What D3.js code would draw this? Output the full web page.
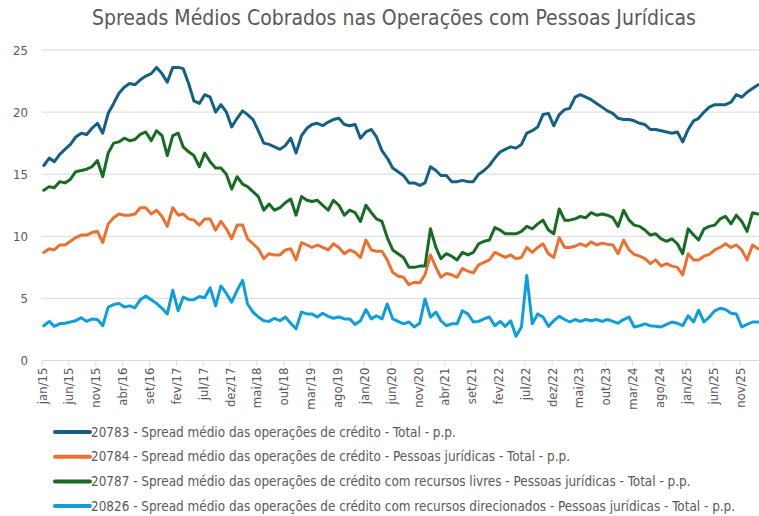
<!DOCTYPE html>
<html>
<head>
<meta charset="utf-8">
<script src="https://cdn.jsdelivr.net/npm/d3@7"></script>
<style>
  body { margin: 0; background: #fff; }
  svg text { font-family: 'Liberation Sans Narrow', 'DejaVu Sans Condensed', 'Roboto', sans-serif; fill: #595959; }
  .grid line { stroke: #d9d9d9; stroke-width: 1px; }
  .series { fill: none; stroke-width: 3px; stroke-linejoin: round; stroke-linecap: round; }
</style>
</head>
<body>
<svg id="chart-svg"></svg>
<script>
// monthly series, jan/15 .. fev/26
const startYear = 2015;
const monthNames = ['jan','fev','mar','abr','mai','jun','jul','ago','set','out','nov','dez'];
const yTicks = [0, 5, 10, 15, 20, 25];

const spreadTotal = [
  15.7, 16.3, 16.0, 16.6, 17.0, 17.4, 18.0, 18.3, 18.2, 18.7,
  19.1, 18.3, 19.9, 20.7, 21.5, 22.0, 22.3, 22.2, 22.6, 22.9,
  23.1, 23.6, 23.1, 22.4, 23.6, 23.6, 23.5, 22.3, 20.9, 20.7,
  21.4, 21.2, 20.0, 20.6, 20.0, 18.8, 19.5, 20.1, 19.8, 19.4,
  18.5, 17.5, 17.4, 17.2, 17.0, 17.3, 17.9, 16.7, 18.1, 18.7,
  19.0, 19.1, 18.9, 19.2, 19.4, 19.5, 19.0, 18.9, 19.0, 17.9,
  18.4, 18.6, 18.0, 16.9, 16.3, 15.5, 15.2, 14.9, 14.3, 14.3,
  14.1, 14.3, 15.6, 15.3, 14.9, 14.9, 14.4, 14.4, 14.5, 14.4,
  14.4, 15.0, 15.3, 15.7, 16.3, 16.8, 17.0, 17.2, 17.1, 17.4,
  18.3, 18.5, 18.8, 19.8, 19.9, 18.9, 19.8, 20.2, 20.3, 21.2,
  21.4, 21.2, 21.0, 20.7, 20.4, 20.1, 19.9, 19.5, 19.4, 19.4,
  19.3, 19.1, 19.0, 18.6, 18.6, 18.5, 18.4, 18.3, 18.4, 17.6,
  18.6, 19.3, 19.5, 20.0, 20.4, 20.6, 20.6, 20.6, 20.8, 21.4,
  21.2, 21.6, 21.9, 22.2
];
const spreadPJ = [
  8.7, 9.0, 8.9, 9.3, 9.3, 9.6, 9.9, 10.1, 10.1, 10.3,
  10.4, 9.5, 11.0, 11.5, 11.8, 11.7, 11.7, 11.8, 12.3, 12.3,
  11.8, 12.1, 11.6, 10.8, 12.3, 11.7, 11.8, 11.4, 11.3, 10.9,
  11.4, 11.4, 10.5, 11.2, 10.6, 9.8, 10.9, 10.9, 9.8, 9.4,
  9.0, 8.2, 8.6, 8.5, 8.5, 8.9, 9.0, 8.1, 9.5, 9.3,
  9.1, 9.3, 9.1, 8.9, 9.4, 9.1, 8.6, 8.9, 8.7, 8.3,
  9.7, 8.9, 8.8, 8.8, 8.1, 7.1, 6.8, 6.7, 6.1, 6.3,
  6.25, 6.9, 8.5, 7.5, 6.7, 7.0, 6.9, 6.7, 7.4, 7.2,
  7.05, 7.7, 7.9, 8.1, 8.7, 8.5, 8.3, 8.5, 8.2, 8.3,
  9.1, 8.7, 9.1, 9.4, 8.6, 8.3, 9.9, 9.1, 9.1, 9.2,
  9.4, 9.2, 9.55, 9.3, 9.45, 9.35, 9.3, 8.6, 9.7, 8.9,
  8.55, 8.4, 8.2, 7.8, 8.1, 7.6, 7.8, 7.6, 7.5, 6.9,
  8.6, 8.1, 8.1, 8.4, 8.55, 8.9, 9.1, 9.4, 9.1, 9.3,
  8.9, 8.1, 9.3, 9.0
];
const spreadLivresPJ = [
  13.7, 14.0, 13.9, 14.4, 14.3, 14.6, 15.2, 15.3, 15.4, 15.6,
  16.1, 14.8, 16.7, 17.5, 17.6, 17.9, 17.7, 17.8, 18.2, 18.4,
  17.7, 18.5, 18.1, 16.5, 18.1, 18.3, 17.2, 16.8, 16.5, 15.6,
  16.7, 16.0, 15.5, 15.5, 15.0, 13.8, 14.8, 14.2, 14.0, 13.6,
  13.2, 12.1, 12.6, 12.1, 12.3, 12.7, 13.0, 11.7, 13.2, 12.9,
  12.8, 12.9, 12.5, 12.1, 12.9, 12.5, 11.7, 12.1, 11.9, 11.2,
  12.5, 11.9, 11.4, 11.2, 9.9, 8.9, 8.6, 8.3, 7.5, 7.5,
  7.6, 7.6, 10.6, 9.1, 8.2, 8.6, 8.4, 8.1, 8.7, 8.5,
  8.7, 9.4, 9.6, 9.7, 10.7, 10.5, 10.2, 10.2, 10.2, 10.4,
  10.8, 10.6, 11.0, 11.3, 10.5, 10.2, 12.2, 11.3, 11.3, 11.4,
  11.6, 11.5, 11.9, 11.7, 11.8, 11.7, 11.5, 10.8, 12.1, 11.3,
  10.9, 10.8, 10.5, 10.1, 10.2, 9.8, 9.6, 9.8, 9.4, 8.6,
  10.6, 10.1, 9.7, 10.6, 10.8, 10.9, 11.4, 11.6, 11.0, 11.7,
  11.2, 10.4, 11.9, 11.8
];
const spreadDirecPJ = [
  2.8, 3.15, 2.75, 2.95, 3.0, 3.1, 3.2, 3.45, 3.15, 3.35,
  3.3, 2.8, 4.3, 4.5, 4.6, 4.3, 4.4, 4.25, 4.9, 5.2,
  4.9, 4.6, 4.2, 3.75, 5.65, 4.0, 5.1, 4.9, 4.9, 5.15,
  5.05, 5.85, 4.4, 6.0, 5.4, 4.7, 5.65, 6.45, 4.55, 3.9,
  3.5, 3.2, 3.15, 3.4, 3.2, 3.5, 3.0, 2.55, 3.9, 3.75,
  3.75, 3.5, 3.8, 3.55, 3.4, 3.5, 3.35, 3.35, 2.9, 3.2,
  4.1, 3.35, 3.6, 3.35, 4.55, 3.35, 3.15, 2.95, 3.1, 2.7,
  3.0, 4.95, 3.5, 3.9, 3.2, 2.8, 2.95, 2.95, 4.0, 3.75,
  3.1, 3.15, 3.35, 3.5, 2.8, 3.15, 2.75, 3.2, 1.95, 2.7,
  6.85, 2.95, 3.75, 3.5, 2.75, 3.2, 3.55, 3.3, 3.1, 3.3,
  3.15, 3.3, 3.2, 3.3, 3.15, 3.3, 3.15, 3.0, 3.3, 3.5,
  2.7, 2.8, 2.95, 2.8, 2.75, 2.7, 2.9, 3.1, 3.0, 2.8,
  3.6, 3.1, 4.05, 3.1, 3.5, 4.0, 4.2, 4.1, 3.8, 3.75,
  2.7, 2.9, 3.1, 3.1
];

const seriesLabels = [
  '20783 - Spread médio das operações de crédito - Total - p.p.',
  '20784 - Spread médio das operações de crédito - Pessoas jurídicas - Total - p.p.',
  '20787 - Spread médio das operações de crédito com recursos livres - Pessoas jurídicas - Total - p.p.',
  '20826 - Spread médio das operações de crédito com recursos direcionados - Pessoas jurídicas - Total - p.p.'
];
const seriesValues = [spreadTotal, spreadPJ, spreadLivresPJ, spreadDirecPJ];
const seriesColors = ['#156082', '#E97132', '#196B24', '#0F9ED5'];

const width = 759, height = 516;
const plotLeft = 41.7, plotRight = 759, plotTop = 50, plotBottom = 360.5;

window.addEventListener('load', function() {
    drawChart();
});

function drawChart()
{
    const svg = d3.select('#chart-svg')
        .attr('width', width)
        .attr('height', height);

    // points sit mid-month, ticks on the 1st
    const dates = d3.range(spreadTotal.length).map(i => new Date(startYear, i, 13));
    const tickDates = d3.range(0, 131, 5).map(m => new Date(startYear, m, 1));

    const x = d3.scaleTime()
        .domain([new Date(startYear, 0, 1), dates[dates.length - 1]])
        .range([plotLeft, 758]);
    const y = d3.scaleLinear()
        .domain([0, 25])
        .range([plotBottom, plotTop]);

    svg.append('text')
        .attr('x', 394)
        .attr('y', 25)
        .attr('text-anchor', 'middle')
        .style('font-size', '21px')
        .text('Spreads Médios Cobrados nas Operações com Pessoas Jurídicas');

    // gridlines + y labels
    const grid = svg.append('g').classed('grid', true);
    grid.selectAll('line')
        .data(yTicks)
        .join('line')
            .attr('x1', plotLeft)
            .attr('x2', plotRight)
            .attr('y1', d => y(d))
            .attr('y2', d => y(d));
    svg.append('g').selectAll('text')
        .data(yTicks)
        .join('text')
            .attr('x', 28)
            .attr('y', d => y(d))
            .attr('dy', '0.35em')
            .attr('text-anchor', 'end')
            .style('font-size', '13px')
            .text(d => d);

    // x axis
    const xAxis = d3.axisBottom(x)
        .tickValues(tickDates)
        .tickSize(5)
        .tickFormat(d => monthNames[d.getMonth()] + '/' + String(d.getFullYear()).slice(2));
    const xg = svg.append('g')
        .attr('transform', `translate(0,${plotBottom})`)
        .call(xAxis);
    xg.select('.domain').remove();
    xg.selectAll('.tick line').attr('stroke', '#d9d9d9');
    xg.selectAll('.tick text')
        .attr('transform', 'rotate(-90)')
        .attr('x', -7)
        .attr('y', 0)
        .attr('dy', '0.35em')
        .attr('text-anchor', 'end')
        .style('font-size', '13px')
        .style('font-family', null);

    // series
    const line = d3.line()
        .x((d, i) => x(dates[i]))
        .y(d => y(d));
    svg.append('g').selectAll('path')
        .data(seriesValues)
        .join('path')
            .classed('series', true)
            .attr('stroke', (d, i) => seriesColors[i])
            .attr('d', d => line(d));

    // legend
    const legend = svg.append('g').selectAll('g')
        .data(seriesLabels)
        .join('g')
            .attr('transform', (d, i) => `translate(55,${432 + i * 24.7})`);
    legend.append('line')
        .attr('x1', 0).attr('x2', 35)
        .attr('stroke', (d, i) => seriesColors[i])
        .attr('stroke-width', 4)
        .attr('stroke-linecap', 'round');
    legend.append('text')
        .attr('x', 36)
        .attr('dy', '0.35em')
        .style('font-size', '13.4px')
        .text(d => d);
}
</script>
</body>
</html>
